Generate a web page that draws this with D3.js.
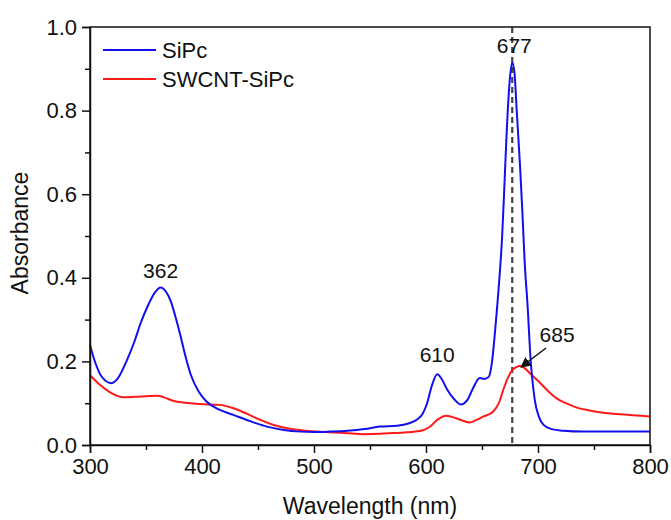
<!DOCTYPE html>
<html><head><meta charset="utf-8">
<script src="https://cdn.jsdelivr.net/npm/d3@7/dist/d3.min.js"></script>
<style>body{margin:0;background:#fff}svg{display:block}text{font-family:"Liberation Sans",Arial,sans-serif;fill:#111}</style>
</head><body><svg id="c" width="671" height="520"></svg>
<script>
const seriesNames = ["SiPc", "SWCNT-SiPc"];
const seriesColors = ["#1010ee", "#ff1a1a"];
const sipcWl  = [300,305,310,319,325,333,340,345,352,358,363,368,372,376,380,385,390,397,404,415,428,443,458,473,488,500,514,530,545,559,574,585,592,597,601,605,610,614,619,625,631,637,642,648,652,656,659,662,665,668,670,672,675,677,679,681,684,686,688,691,693,697,701,705,712,723,740,760,780,800];
const sipcAbs = [0.239,0.195,0.165,0.148,0.160,0.203,0.250,0.290,0.335,0.365,0.377,0.366,0.345,0.310,0.270,0.215,0.168,0.128,0.104,0.085,0.072,0.057,0.044,0.036,0.032,0.031,0.032,0.034,0.038,0.044,0.046,0.052,0.061,0.075,0.100,0.140,0.169,0.158,0.132,0.110,0.097,0.108,0.136,0.160,0.158,0.163,0.200,0.283,0.380,0.500,0.620,0.746,0.880,0.915,0.890,0.800,0.666,0.560,0.443,0.320,0.220,0.110,0.066,0.048,0.038,0.034,0.032,0.032,0.032,0.032];
const cntWl  = [300,308,318,330,345,360,366,374,385,398,416,428,440,452,464,476,490,505,518,530,544,560,574,587,598,604,610,618,627,633,639,645,651,656,660,665,669,673,677,681,684,688,693,699,705,711,717,725,734,745,758,770,782,792,800];
const cntAbs = [0.167,0.146,0.126,0.114,0.116,0.118,0.114,0.106,0.101,0.098,0.096,0.088,0.075,0.060,0.048,0.040,0.035,0.032,0.030,0.028,0.026,0.027,0.029,0.031,0.036,0.045,0.060,0.070,0.064,0.058,0.054,0.060,0.068,0.073,0.080,0.100,0.132,0.160,0.179,0.187,0.189,0.184,0.171,0.156,0.140,0.124,0.111,0.100,0.090,0.083,0.077,0.074,0.072,0.070,0.068];
const xTicks = [300,400,500,600,700,800];
const yTicks = [0.0,0.2,0.4,0.6,0.8,1.0];
const peakLabels = [
  {text:"362", wl:363, abs:0.377},
  {text:"610", wl:610, abs:0.169},
  {text:"677", wl:677, abs:0.915},
  {text:"685", wl:684, abs:0.189}
];
const markerWl = 677;

const svg = d3.select("#c");
const L=90, R=650, T=27, B=445;
const x = d3.scaleLinear().domain([300,800]).range([L,R]);
const y = d3.scaleLinear().domain([0,1.0]).range([B,T]);

svg.append("line").attr("x1",x(markerWl)).attr("x2",x(markerWl)).attr("y1",T).attr("y2",B)
  .attr("stroke","#444").attr("stroke-width",2.2).attr("stroke-dasharray","6,4");

const line = d3.line().x(d=>x(d[0])).y(d=>y(d[1])).curve(d3.curveMonotoneX);
const series = [d3.zip(sipcWl,sipcAbs), d3.zip(cntWl,cntAbs)];
[1,0].forEach(i=>{
  svg.append("path").datum(series[i]).attr("d",line).attr("fill","none")
    .attr("stroke",seriesColors[i]).attr("stroke-width",2).attr("stroke-linejoin","round");
});

svg.append("rect").attr("x",L).attr("y",T).attr("width",R-L).attr("height",B-T)
  .attr("fill","none").attr("stroke","#111").attr("stroke-width",1.5);

svg.append("g").attr("transform",`translate(0,${B})`)
  .call(d3.axisBottom(x).tickValues(xTicks).tickFormat(d3.format("d")).tickSize(8).tickPadding(5));
svg.append("g").attr("transform",`translate(0,${B})`)
  .call(d3.axisBottom(x).tickValues(d3.range(350,800,100)).tickFormat("").tickSize(5))
  .call(g=>g.select(".domain").remove());
svg.append("g").attr("transform",`translate(${L},0)`)
  .call(d3.axisLeft(y).tickValues(yTicks).tickFormat(d3.format(".1f")).tickSize(8).tickPadding(5));
svg.append("g").attr("transform",`translate(${L},0)`)
  .call(d3.axisLeft(y).tickValues([0.1,0.3,0.5,0.7,0.9]).tickFormat("").tickSize(5))
  .call(g=>g.select(".domain").remove());
svg.selectAll(".domain").attr("stroke","#111").attr("stroke-width",1.5);
svg.selectAll(".tick line").attr("stroke","#111").attr("stroke-width",1.5);
svg.selectAll(".tick text").attr("font-size",22).attr("font-family","Liberation Sans, Arial, sans-serif").attr("fill","#111");

svg.append("text").attr("x",370).attr("y",514).attr("text-anchor","middle")
  .attr("font-size",23).text("Wavelength (nm)");
svg.append("text").attr("transform",`translate(28,233) rotate(-90)`).attr("text-anchor","middle")
  .attr("font-size",23).text("Absorbance");

seriesNames.forEach((n,i)=>{
  const ly = 50 + i*29;
  svg.append("line").attr("x1",103).attr("x2",156).attr("y1",ly).attr("y2",ly)
    .attr("stroke",seriesColors[i]).attr("stroke-width",2);
  svg.append("text").attr("x",162).attr("y",ly+8).attr("font-size",22).text(n);
});

const offs = {"362":[0,-9],"610":[0,-12],"677":[2,-10],"685":[37,-24]};
peakLabels.forEach(p=>{
  const o = offs[p.text];
  svg.append("text").attr("x",x(p.wl)+o[0]).attr("y",y(p.abs)+o[1]).attr("text-anchor","middle")
    .attr("font-size",21).text(p.text);
});
const p685 = peakLabels[3];
const ax2 = x(p685.wl)+1, ay2 = y(p685.abs)+1;
const ax1 = ax2+25, ay1 = ay2-19;
svg.append("defs").append("marker").attr("id","ah").attr("viewBox","0 0 10 10").attr("refX",9).attr("refY",5)
  .attr("markerWidth",7).attr("markerHeight",7).attr("orient","auto")
  .append("path").attr("d","M0,0L10,5L0,10z").attr("fill","#111");
svg.append("line").attr("x1",ax1).attr("y1",ay1).attr("x2",ax2).attr("y2",ay2)
  .attr("stroke","#111").attr("stroke-width",1.5).attr("marker-end","url(#ah)");
</script></body></html>
